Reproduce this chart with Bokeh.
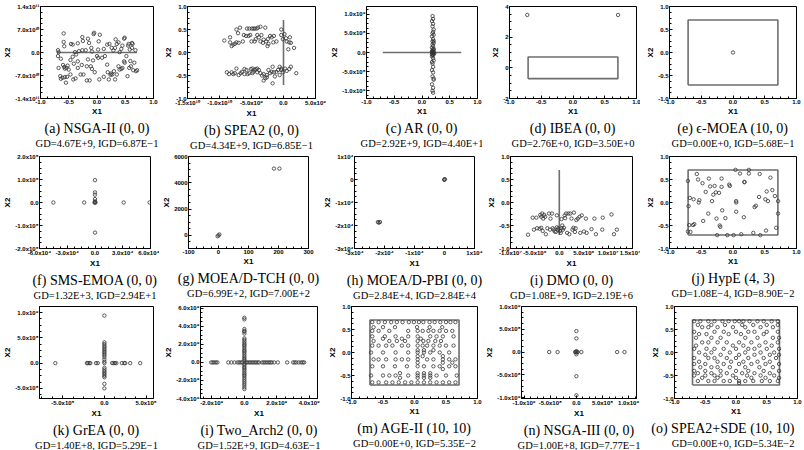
import numpy as np
from bokeh.plotting import figure
from bokeh.models import FixedTicker, Title, Range1d
from bokeh.layouts import row, column
from bokeh.embed import file_html
from bokeh.resources import INLINE

# ---------------- data ----------------
ps_x = [-0.707, 0.707, 0.707, -0.707, -0.707]
ps_y = [-0.707, -0.707, 0.707, 0.707, -0.707]

a_x = [-0.59, -0.59, -0.58, -0.69, -0.68, -0.46, -0.43, -0.34, -0.26, -0.25,
       -0.16, -0.14, -0.10, -0.06, -0.05, 0.03, 0.05, 0.12, 0.18, 0.22,
       0.26, 0.29, 0.33, 0.35, 0.38, 0.43, 0.48, 0.49, 0.55, 0.56,
       0.62, 0.62, 0.63, 0.68, -0.32, -0.26, -0.39, -0.37, -0.20, -0.09,
       0.02, 0.32, 0.45, 0.58, 0.40,
       -0.69, -0.64, -0.60, -0.58, -0.57, -0.54, -0.52, -0.50, -0.47, -0.43,
       -0.41, -0.42, -0.47, -0.53, -0.57, -0.65, -0.64, -0.61, -0.55, -0.68,
       -0.34, -0.29, -0.24, -0.18, -0.13, -0.11, -0.09, -0.04, 0.0, 0.02,
       0.04, 0.09, 0.12, 0.14, 0.19, 0.21, 0.24, 0.25, 0.27, 0.30,
       0.32, 0.35, 0.38, 0.40, 0.43, 0.45, 0.48, 0.49, 0.52, 0.54,
       0.57, 0.59, 0.60, 0.64, 0.66, 0.69, 0.71, -0.07, -0.16, -0.27,
       -0.18, -0.34, -0.38, 0.18]
a_y_e10 = [5.8, 3.2, 1.9, 0.7, 0.1, 2.6, 2.4, 2.8, 4.7, 3.5,
           4.2, 2.9, 1.4, 5.6, 6.0, 3.4, 5.4, 1.1, 2.4, 2.6,
           1.4, 0.6, 4.0, 2.6, 3.1, 1.1, 4.2, 4.5, 2.1, 2.6,
           2.9, 1.4, 2.6, 0.7, 0.4, 0.7, 0.1, -0.6, 0.7, 0.3,
           0.9, 1.4, 2.1, 0.9, 0.1,
           -1.1, -1.9, -3.8, -4.4, -4.9, -4.7, -4.0, -5.2, -2.3, -1.3,
           -3.4, -8.2, -6.7, -7.4, -7.5, -7.2, -8.0, -7.7, -9.2, -4.7,
           -2.7, -6.7, -6.7, -8.5, -8.5, -4.2, -5.0, -6.0, -1.1, -1.6,
           -8.2, -1.6, -7.4, -1.1, -6.0, -8.2, -6.8, -6.4, -6.7, -5.7,
           -8.2, -6.7, -4.2, -5.2, -5.0, -4.7, -2.7, -3.1, -1.1, -7.2,
           -4.7, -2.6, -4.2, -5.4, -3.1, -5.7, -5.4, -2.4, -2.1, -3.8,
           -4.2, -4.7, -7.9, -3.7]

b_x_e9 = [-9.25, -8.35, -8.1, -7.85, -7.6, -7.35, -7.0, -8.35, -7.35, -6.8,
          -7.1, -6.2, -5.85, -5.45, -5.2, -5.7, -5.35, -4.95, -4.7, -4.5,
          -4.2, -4.0, -3.6, -2.85, -4.1, -3.85, -3.6, -3.45, -4.35, -4.5,
          -3.2, -3.1, -2.7, -2.45, -2.35, -2.1, -1.85, -1.6, -1.5, -1.1,
          -0.35, -0.1, 0.15, 0.4, 0.5, 0.9, 1.0, 1.15, 0.75, 1.65,
          -0.35, -2.5, -5.0, -6.35,
          -8.85, -8.5, -8.1, -7.85, -7.6, -7.35, -7.0, -6.7, -6.5, -6.1,
          -5.8, -5.6, -5.35, -5.1, -4.85, -4.7, -4.5, -4.35, -4.1, -3.85,
          -3.6, -3.35, -3.1, -2.85, -2.6, -2.35, -2.1, -1.85, -1.7, -1.5,
          -1.35, -1.1, -0.85, -0.6, -0.35, -0.1, 0.25, 0.5, 0.9, 1.15,
          2.0, -1.7, -2.6, -4.1, -4.85, -6.1, -3.1, -0.35, -0.6]
b_y = [0.26, 0.33, 0.14, 0.17, 0.19, 0.22, 0.21, 0.22, 0.50, 0.54,
       0.42, 0.38, 0.36, 0.36, 0.38, 0.52, 0.52, 0.52, 0.52, 0.52,
       0.52, 0.54, 0.56, 0.54, 0.38, 0.33, 0.24, 0.38, 0.29, 0.24,
       0.21, 0.28, 0.24, 0.29, 0.19, 0.36, 0.33, 0.22, 0.36, 0.24,
       0.38, 0.29, 0.40, 0.31, 0.24, 0.22, 0.33, 0.21, 0.07, 0.10,
       0.50, 0.14, 0.24, 0.24,
       -0.43, -0.47, -0.43, -0.47, -0.45, -0.35, -0.49, -0.45, -0.42, -0.36,
       -0.38, -0.47, -0.45, -0.36, -0.35, -0.42, -0.38, -0.36, -0.35, -0.38,
       -0.45, -0.50, -0.47, -0.56, -0.54, -0.38, -0.45, -0.42, -0.31, -0.43,
       -0.52, -0.42, -0.38, -0.31, -0.35, -0.43, -0.35, -0.40, -0.36, -0.31,
       -0.45, -0.67, -0.49, -0.43, -0.45, -0.47, -0.61, -0.38, -0.49]

c_x = [0.19, 0.20, 0.18, 0.20, 0.19, 0.20, 0.21, 0.18, 0.20, 0.19,
       0.21, 0.19, 0.20, 0.18, 0.20, 0.21, 0.19, 0.20, 0.18, 0.21,
       0.19, 0.20, 0.18, 0.20, 0.21, 0.19, 0.20, 0.18, 0.20, 0.19,
       0.21, 0.18, 0.20, 0.19, 0.20, 0.21, 0.20, 0.18, 0.22, 0.21,
       0.18, 0.21, 0.19, 0.21, 0.18, 0.21]
c_y_e8 = [9.5, 8.75, 8.2, 7.5, 6.8, 5.4, 4.6, 4.2, 3.5, 2.9,
          2.5, 2.1, 1.7, 1.25, 0.8, 0.6, 0.4, 0.2, 0.0, -0.2,
          -0.4, -0.7, -1.0, -1.5, -2.1, -2.9, -3.75, -4.6, -5.2, -6.25,
          -7.1, -8.3, -9.2, -10.0, -10.5, 0.1, -0.1, 0.3, -0.3, 1.0,
          -0.55, 3.0, 5.0, 6.0, -2.5, -6.8]

d_x = [-0.72, 0.71]
d_y = [3.45, 3.45]

e_x = [0.0]
e_y = [0.0]

f_x_e4 = [-4.5, -1.17, -0.05, 0.05, 0.0, 3.1, 5.9, 0.0, 0.0, 0.0, 0.0, 0.0, 0.0]
f_y_e4 = [0.0, 0.0, 0.0, 0.0, 0.0, 0.0, 0.0, 9.7, 4.4, 3.4, 1.5, 0.5, -13.1]

g_x = [185, 203, 0, 3, -3]
g_y = [5080, 5080, 0, 70, -70]

h_x_e4 = [-2.22, -2.15, -2.19, 0.0, 0.01, -0.01]
h_y_e4 = [-1.85, -1.85, -1.88, 0.0, 0.015, -0.015]

i_x_e6 = [-6.4, -5.45, -5.2, -4.7, -4.55, -4.05, -3.9, -3.7, -3.7, -3.5,
          -3.3, -3.1, -2.9, -2.75, -2.45, -2.1, -1.9, -1.8, -1.5, -1.35,
          -1.15, -0.95, -0.7, -0.5, -0.3, -0.2, 0.15, 0.3, 0.45, 0.6,
          0.75, 0.95, 1.1, 1.2, 1.4, 1.6, 1.85, 2.05, 2.25, 2.5,
          2.7, 2.9, 3.0, 3.2, 3.35, 3.5, 3.8, 4.15, 4.6, 5.05,
          5.45, 5.6, 6.6, 7.2, 7.5, 8.9, 8.8, 10.7, 11.2, 11.8,
          -0.5, 0.45, -3.4, 4.3]
i_y = [-0.70, -0.33, -0.59, -0.33, -0.56, -0.57, -0.27, -0.31, -0.55, -0.24,
       -0.35, -0.27, -0.31, -0.69, -0.56, -0.24, -0.59, -0.35, -0.24, -0.56,
       -0.59, -0.63, -0.64, -0.54, -0.59, -0.56, -0.62, -0.66, -0.56, -0.50,
       -0.59, -0.55, -0.28, -0.34, -0.24, -0.66, -0.24, -0.69, -0.24, -0.35,
       -0.59, -0.55, -0.22, -0.64, -0.56, -0.38, -0.35, -0.31, -0.28, -0.63,
       -0.35, -0.66, -0.58, -0.35, -0.69, -0.33, -0.59, -0.26, -0.69, -0.59,
       -0.28, -0.36, -0.62, -0.66]

j_x = [-0.71, -0.70, -0.69, -0.68, -0.67, -0.62, -0.61, -0.57, -0.55, -0.54,
       -0.53, -0.48, -0.47, -0.43, -0.39, -0.38, -0.36, -0.33, -0.31, -0.29,
       -0.27, -0.26, -0.25, -0.22, -0.21, -0.20, -0.18, -0.18, -0.17, -0.12,
       -0.09, -0.06, -0.05, 0.01, 0.05, 0.05, 0.05, 0.04, 0.11, 0.13,
       0.17, 0.18, 0.18, 0.25, 0.25, 0.32, 0.34, 0.36, 0.41, 0.42,
       0.43, 0.51, 0.52, 0.53, 0.55, 0.59, 0.62, 0.66, 0.68, 0.71,
       0.71, -0.71, -0.63]
j_y = [0.47, -0.08, -0.49, 0.10, -0.64, 0.07, -0.47, 0.62, 0.50, 0.0,
       0.05, 0.42, -0.40, 0.23, -0.24, 0.52, 0.35, 0.03, 0.17, 0.36,
       0.22, -0.35, -0.71, 0.21, -0.50, -0.53, 0.52, 0.34, -0.17, -0.34,
       -0.71, 0.39, 0.36, -0.71, -0.20, 0.03, 0.0, 0.71, 0.63, -0.69,
       -0.32, 0.45, 0.44, 0.71, 0.63, -0.66, -0.10, -0.07, 0.12, 0.62,
       -0.71, 0.07, -0.61, 0.24, 0.03, 0.54, 0.27, 0.14, -0.55, 0.03,
       -0.24, -0.63, -0.49]

k_x_e5 = [-5.9, -2.1, -2.0, -1.8, -1.7, -1.0, -0.8, 0.0, 0.93, 1.1, 1.27, 1.43, 2.1, 2.4, 2.5, 3.1, 4.3,
          0.0, 0.0, 0.0, 0.0, 0.0, 0.0, 0.0, 0.0, 0.0, 0.0, 0.0, 0.0, 0.0, 0.0, 0.0, 0.0, 0.0, 0.0, 0.0, 0.0, 0.0, 0.0]
k_y_e8 = [0.0, 0.0, 0.0, 0.0, 0.0, 0.0, 0.0, 0.0, 0.0, 0.0, 0.0, 0.0, 0.0, 0.0, 0.0, 0.0, 0.0,
          9.4, 4.1, 3.75, 3.4, 3.1, 2.8, 2.5, 2.2, 1.9, 1.6, 1.25, 0.75, 0.3, -0.9, -1.25, -1.6, -1.9, -2.2,
          -2.5, -2.8, -4.1, -5.0]

l_h_x_e9 = [-2.04, -1.95, -1.85, -1.75, -1.66, -0.99, -0.8, -0.61, -0.42, -0.32, -0.23, -0.13,
            0.06, 0.15, 0.25, 0.34, 0.44, 0.53, 0.63, 0.72, 0.82, 0.91, 1.1, 1.2, 1.3, 1.4, 1.5,
            1.6, 1.68, 1.83, 2.06, 2.63, 3.0, 3.1, 3.2, 3.35, 3.5, 3.6, 3.68]
l_v_y_e9 = [4.95, 4.77, 3.7, 3.5, 3.4, 3.2, 2.67, 2.5, 2.3, 2.1, 1.95, 1.8, 1.6, 1.4, 1.25, 1.1,
            0.9, 0.7, 0.5, 0.35, 0.2, -0.14, -0.3, -0.5, -0.65, -0.8, -1.0, -1.2, -1.35, -1.5,
            -1.7, -1.9, -2.1, -2.3, -2.5, -2.75, -2.95]

m_levels = [0.66, 0.55, 0.47, 0.35, 0.30, 0.25, 0.15, 0.05, 0.0, -0.08, -0.15, -0.22,
            -0.30, -0.36, -0.45, -0.50, -0.55, -0.65]
m_rows = [[-0.67, -0.57, -0.47, -0.37, -0.28, -0.19, -0.09, -0.01, 0.07, 0.14, 0.24, 0.32, 0.41, 0.50, 0.57, 0.65],
          [-0.65, -0.50, -0.31, 0.04, 0.24, 0.44],
          [-0.67, -0.57, -0.40, -0.10, 0.05, 0.13, 0.22, 0.30, 0.40, 0.50, 0.60],
          [-0.67, -0.47, -0.30, -0.10, 0.05, 0.25, 0.35, 0.45, 0.62],
          [-0.50, -0.20, 0.10],
          [-0.65, -0.40, -0.28, -0.15, 0.05, 0.14, 0.22, 0.33, 0.42],
          [-0.67, -0.57, -0.45, -0.35, -0.20, -0.10, 0.05, 0.13, 0.20, 0.30, 0.40, 0.50, 0.62],
          [0.05, 0.15, 0.30],
          [-0.69, -0.50, -0.30, -0.10, 0.05, 0.15, 0.25, 0.40, 0.55],
          [0.05, 0.13, 0.45],
          [-0.65, -0.57, -0.45, -0.30, -0.20, -0.10, 0.05, 0.20, 0.30, 0.45, 0.55, 0.65],
          [0.05, 0.45, 0.60],
          [-0.67, -0.50, -0.31, -0.12, 0.05, 0.15, 0.30, 0.40, 0.55, 0.65],
          [0.45],
          [-0.23, 0.05, 0.15, 0.25],
          [-0.69, -0.50, -0.40, -0.30, -0.10, 0.05, 0.15, 0.25, 0.35, 0.50, 0.67],
          [-0.23, 0.05, 0.15, 0.25],
          [-0.67, -0.57, -0.45, -0.35, -0.25, -0.15, -0.05, 0.05, 0.15, 0.25, 0.35, 0.45, 0.55, 0.65]]

n_x_e8 = [-5.2, -3.6, -0.25, 0.0, 0.25, 0.95, 7.8, 9.2, 0.0, 0.0, 0.0, 0.0, 0.0, 0.0, 0.0]
n_y_e8 = [0.0, 0.0, 0.0, 0.0, 0.0, 0.0, 0.0, 0.0, 4.6, 3.0, 0.2, -0.1, -0.5, -5.3, -9.5]

o_levels = [0.68, 0.60, 0.55, 0.45, 0.40, 0.32, 0.22, 0.15, 0.08, 0.0, -0.05, -0.12, -0.20,
            -0.25, -0.32, -0.40, -0.45, -0.50, -0.55, -0.62, -0.66]
o_rows = [[-0.68, -0.58, -0.45, -0.35, -0.22, -0.12, -0.02, 0.05, 0.12, 0.22, 0.35, 0.45, 0.58, 0.68],
          [-0.62, -0.40, -0.18, 0.10, 0.28, 0.50, 0.68],
          [-0.55, -0.45, -0.30, -0.05, 0.15, 0.40, 0.60],
          [-0.68, -0.35, -0.20, 0.00, 0.20, 0.30, 0.50, 0.68],
          [-0.60, -0.48, -0.12, 0.08, 0.45],
          [-0.65, -0.40, -0.25, 0.15, 0.35, 0.60, 0.70],
          [-0.55, -0.45, -0.30, -0.15, 0.05, 0.25, 0.48, 0.68],
          [-0.65, -0.05, 0.12, 0.38, 0.58],
          [-0.68, -0.48, -0.35, -0.20, 0.00, 0.20, 0.30, 0.50, 0.70],
          [-0.60, -0.40, -0.10, 0.15, 0.40, 0.62],
          [-0.50, -0.25, 0.05, 0.30, 0.55, 0.70],
          [-0.68, -0.45, -0.35, -0.15, 0.00, 0.20, 0.45, 0.65],
          [-0.60, -0.30, -0.08, 0.12, 0.35, 0.55],
          [-0.68, -0.50, -0.20, 0.05, 0.25, 0.48, 0.70],
          [-0.58, -0.40, -0.30, -0.10, 0.15, 0.38, 0.60],
          [-0.68, -0.50, -0.25, 0.00, 0.20, 0.45, 0.70],
          [-0.62, -0.40, -0.15, 0.10, 0.30, 0.55],
          [-0.68, -0.50, -0.35, -0.25, -0.05, 0.18, 0.40, 0.62],
          [-0.55, -0.30, 0.00, 0.25, 0.48, 0.70],
          [-0.62, -0.45, -0.35, -0.20, -0.10, 0.05, 0.15, 0.28, 0.42, 0.55, 0.68],
          [0.05]]

# tick values / labels
unit_ticks = [-1.0, -0.5, 0.0, 0.5, 1.0]
unit_labels = ["-1.0", "-0.5", "0.0", "0.5", "1.0"]
a_yticks = [-1.4e11, -7.0e10, 0.0, 7.0e10, 1.4e11]
a_ylabels = ["-1.4x10¹¹", "-7.0x10¹⁰", "0.0", "7.0x10¹⁰", "1.4x10¹¹"]
b_xticks = [-1.5e10, -1.0e10, -5.0e9, 0.0, 5.0e9]
b_xlabels = ["-1.5x10¹⁰", "-1.0x10¹⁰", "-5.0x10⁹", "0.0", "5.0x10⁹"]
c_yticks = [-1.0e9, -5.0e8, 0.0, 5.0e8, 1.0e9]
c_ylabels = ["-1.0x10⁹", "-5.0x10⁸", "0.0", "5.0x10⁸", "1.0x10⁹"]
d_yticks = [-2, 0, 2, 4]
d_ylabels = ["-2", "0", "2", "4"]
f_xticks = [-6.0e4, -3.0e4, 0.0, 3.0e4, 6.0e4]
f_xlabels = ["-6.0x10⁴", "-3.0x10⁴", "0.0", "3.0x10⁴", "6.0x10⁴"]
f_yticks = [-2.0e5, -1.0e5, 0.0, 1.0e5, 2.0e5]
f_ylabels = ["-2.0x10⁵", "-1.0x10⁵", "0.0", "1.0x10⁵", "2.0x10⁵"]
g_xticks = [-100, 0, 100, 200, 300]
g_xlabels = ["-100", "0", "100", "200", "300"]
g_yticks = [0, 2000, 4000, 6000]
g_ylabels = ["0", "2000", "4000", "6000"]
h_ticks = [-3e4, -2e4, -1e4, 0, 1e4]
h_labels = ["-3x10⁴", "-2x10⁴", "-1x10⁴", "0", "1x10⁴"]
i_xticks = [-1.0e7, -5.0e6, 0.0, 5.0e6, 1.0e7, 1.5e7]
i_xlabels = ["-1.0x10⁷", "-5.0x10⁶", "0.0", "5.0x10⁶", "1.0x10⁷", "1.5x10⁷"]
k_xticks = [-5.0e5, 0.0, 5.0e5]
k_xlabels = ["-5.0x10⁵", "0.0", "5.0x10⁵"]
k_yticks = [-5.0e8, 0.0, 5.0e8, 1.0e9]
k_ylabels = ["-5.0x10⁸", "0.0", "5.0x10⁸", "1.0x10⁹"]
l_xticks = [-2.0e9, 0.0, 2.0e9, 4.0e9]
l_xlabels = ["-2.0x10⁹", "0.0", "2.0x10⁹", "4.0x10⁹"]
l_yticks = [-4.0e9, -2.0e9, 0.0, 2.0e9, 4.0e9, 6.0e9]
l_ylabels = ["-4.0x10⁹", "-2.0x10⁹", "0.0", "2.0x10⁹", "4.0x10⁹", "6.0x10⁹"]
n_ticks = [-1.0e9, -5.0e8, 0.0, 5.0e8, 1.0e9]
n_labels = ["-1.0x10⁹", "-5.0x10⁸", "0.0", "5.0x10⁸", "1.0x10⁹"]

captions = [
    ("(a) NSGA-II (0, 0)", "GD=4.67E+9, IGD=6.87E−1"),
    ("(b) SPEA2 (0, 0)", "GD=4.34E+9, IGD=6.85E−1"),
    ("(c) AR (0, 0)", "GD=2.92E+9, IGD=4.40E+1"),
    ("(d) IBEA (0, 0)", "GD=2.76E+0, IGD=3.50E+0"),
    ("(e) ϵ-MOEA (10, 0)", "GD=0.00E+0, IGD=5.68E−1"),
    ("(f) SMS-EMOA (0, 0)", "GD=1.32E+3, IGD=2.94E+1"),
    ("(g) MOEA/D-TCH (0, 0)", "GD=6.99E+2, IGD=7.00E+2"),
    ("(h) MOEA/D-PBI (0, 0)", "GD=2.84E+4, IGD=2.84E+4"),
    ("(i) DMO (0, 0)", "GD=1.08E+9, IGD=2.19E+6"),
    ("(j) HypE (4, 3)", "GD=1.08E−4, IGD=8.90E−2"),
    ("(k) GrEA (0, 0)", "GD=1.40E+8, IGD=5.29E−1"),
    ("(i) Two_Arch2 (0, 0)", "GD=1.52E+9, IGD=4.63E−1"),
    ("(m) AGE-II (10, 10)", "GD=0.00E+0, IGD=5.35E−2"),
    ("(n) NSGA-III (0, 0)", "GD=1.00E+8, IGD=7.77E−1"),
    ("(o) SPEA2+SDE (10, 10)", "GD=0.00E+0, IGD=5.34E−2"),
]


def expand(levels, rows):
    xs, ys = [], []
    for lv, r in zip(levels, rows):
        xs += list(r)
        ys += [lv] * len(r)
    return xs, ys


def minors(ticks, n=4):
    out = []
    for t0, t1 in zip(ticks[:-1], ticks[1:]):
        out += list(np.linspace(t0, t1, n + 1)[1:-1])
    step = (ticks[1] - ticks[0]) / n
    out += [ticks[0] - step * k for k in range(1, n)] + [ticks[-1] + step * k for k in range(1, n)]
    return out


TICK_FONT = "Liberation Sans"
SERIF = "Liberation Serif"


def style_axis(ax):
    ax.major_tick_in = 3
    ax.major_tick_out = 0
    ax.minor_tick_in = 2
    ax.minor_tick_out = 0
    ax.axis_line_color = "black"
    ax.major_tick_line_color = "black"
    ax.minor_tick_line_color = "black"
    ax.major_label_text_font = TICK_FONT
    ax.major_label_text_font_style = "bold"
    ax.major_label_text_color = "black"
    ax.major_label_text_font_size = "6px"
    ax.major_label_standoff = 1
    ax.axis_label_text_font = TICK_FONT
    ax.axis_label_text_font_size = "8px"
    ax.axis_label_text_font_style = "bold"
    ax.axis_label_text_color = "black"
    ax.axis_label_standoff = 0


def panel(w, xr, yr, xt, xl, yt, yl, xs, ys, cap, mb_left, mb_right, cap_align="center", cap_offset=0):
    p = figure(width=w, height=150, x_range=Range1d(*xr), y_range=Range1d(*yr),
               output_backend="svg", toolbar_location=None,
               min_border_left=mb_left, min_border_right=mb_right,
               min_border_top=6, min_border_bottom=0)
    p.grid.visible = False
    p.background_fill_color = "white"
    p.border_fill_color = "white"
    p.outline_line_color = "black"
    p.outline_line_width = 1
    p.outline_line_alpha = 1
    p.xaxis.ticker = FixedTicker(ticks=list(xt), minor_ticks=minors(list(xt)))
    p.yaxis.ticker = FixedTicker(ticks=list(yt), minor_ticks=minors(list(yt)))
    p.xaxis.major_label_overrides = {float(t): s for t, s in zip(xt, xl)}
    p.yaxis.major_label_overrides = {float(t): s for t, s in zip(yt, yl)}
    p.xaxis.axis_label = "X1"
    p.yaxis.axis_label = "X2"
    style_axis(p.xaxis[0])
    style_axis(p.yaxis[0])
    p.line(ps_x, ps_y, line_color="#6e6e6e", line_width=1.6)
    p.scatter(xs, ys, marker="circle", size=3.4, fill_color=None,
              line_color="#333333", line_width=0.8)
    t1 = Title(text=cap[0], align=cap_align, offset=cap_offset, text_font=SERIF,
               text_font_size="14px", text_font_style="normal", text_color="black", standoff=0)
    t2 = Title(text=cap[1], align=cap_align, offset=cap_offset, text_font=SERIF,
               text_font_size="10.5px", text_font_style="normal", text_color="black", standoff=0)
    p.add_layout(t1, "below")
    p.add_layout(t2, "below")
    return p


m_x, m_y = expand(m_levels, m_rows)
o_x, o_y = expand(o_levels, o_rows)

a_y = [v * 1e10 for v in a_y_e10]
b_x = [v * 1e9 for v in b_x_e9]
c_y = [v * 1e8 for v in c_y_e8]
f_x = [v * 1e4 for v in f_x_e4]
f_y = [v * 1e4 for v in f_y_e4]
h_x = [v * 1e4 for v in h_x_e4]
h_y = [v * 1e4 for v in h_y_e4]
i_x = [v * 1e6 for v in i_x_e6]
k_x = [v * 1e5 for v in k_x_e5]
k_y = [v * 1e8 for v in k_y_e8]
l_x = [v * 1e9 for v in l_h_x_e9] + [0.0] * len(l_v_y_e9)
l_y = [0.0] * len(l_h_x_e9) + [v * 1e9 for v in l_v_y_e9]
n_x = [v * 1e8 for v in n_x_e8]
n_y = [v * 1e8 for v in n_y_e8]

# row 1
pa = panel(161, (-1, 1), (-1.4e11, 1.4e11), unit_ticks, unit_labels, a_yticks, a_ylabels, a_x, a_y, captions[0], 22, 8)
pb = panel(166, (-1.5e10, 5e9), (-1, 1), b_xticks, b_xlabels, unit_ticks, unit_labels, b_x, b_y, captions[1], 18, 12)
pc = panel(155, (-1, 1), (-1.2e9, 1.2e9), unit_ticks, unit_labels, c_yticks, c_ylabels, c_x, c_y, captions[2], 28, 5)
pd = panel(158, (-1, 1), (-2, 4), unit_ticks, unit_labels, d_yticks, d_ylabels, d_x, d_y, captions[3], 27, 4)
pe = panel(164, (-1, 1), (-1, 1), unit_ticks, unit_labels, unit_ticks, unit_labels, e_x, e_y, captions[4], 29, 8)
# row 2
pf = panel(159, (-6e4, 6e4), (-2e5, 2e5), f_xticks, f_xlabels, f_yticks, f_ylabels, f_x, f_y, captions[5], 21, 9)
pg = panel(161, (-100, 300), (-1000, 6000), g_xticks, g_xlabels, g_yticks, g_ylabels, g_x, g_y, captions[6], 22, 12)
ph = panel(164, (-3e4, 1e4), (-3e4, 1e4), h_ticks, h_labels, h_ticks, h_labels, h_x, h_y, captions[7], 21, 10)
pi = panel(156, (-1e7, 1.5e7), (-1, 1), i_xticks, i_xlabels, unit_ticks, unit_labels, i_x, i_y, captions[8], 25, 8)
pj = panel(164, (-1, 1), (-1, 1), unit_ticks, unit_labels, unit_ticks, unit_labels, j_x, j_y, captions[9], 29, 8)
# row 3
pk = panel(161, (-7.8e5, 5.9e5), (-7e8, 1.12e9), k_xticks, k_xlabels, k_yticks, k_ylabels, k_x, k_y, captions[10], 16, 8)
pl = panel(164, (-2.7e9, 4.5e9), (-4.0e9, 6.2e9), l_xticks, l_xlabels, l_yticks, l_ylabels, l_x, l_y, captions[11], 29, 8)
pm = panel(157, (-1, 1), (-1, 1), unit_ticks, unit_labels, unit_ticks, unit_labels, m_x, m_y, captions[12], 20, 5)
pn = panel(166, (-1.05e9, 1.15e9), (-1.02e9, 1.0e9), n_ticks, n_labels, n_ticks, n_labels, n_x, n_y, captions[13], 26, 12)
po = panel(156, (-1, 1), (-1, 1), unit_ticks, unit_labels, unit_ticks, unit_labels, o_x, o_y, captions[14], 17, 7,
           cap_align="right", cap_offset=3)

layout = column(row(pa, pb, pc, pd, pe), row(pf, pg, ph, pi, pj), row(pk, pl, pm, pn, po))

with open("out.html", "w") as f:
    f.write(file_html(layout, INLINE))
